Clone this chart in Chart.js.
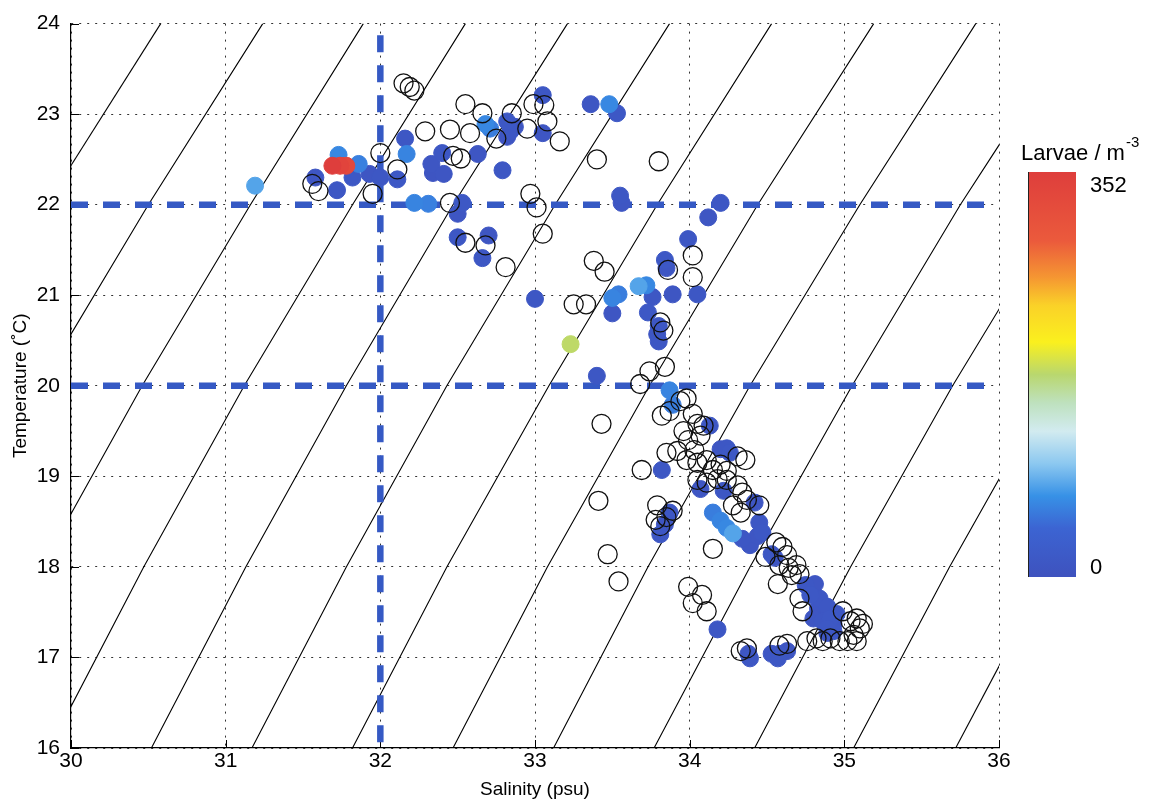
<!DOCTYPE html>
<html>
<head>
<meta charset="utf-8">
<title>T-S diagram</title>
<script src="https://cdn.jsdelivr.net/npm/chart.js@4.4.0/dist/chart.umd.min.js"></script>
<style>
  html, body { margin: 0; padding: 0; background: #fff; }
  #wrap { width: 1159px; height: 806px; position: relative; }
</style>
</head>
<body>
<div id="wrap"><canvas id="ts"></canvas></div>
<script>
const salTicks = [30, 31, 32, 33, 34, 35, 36];
const tempTicks = [16, 17, 18, 19, 20, 21, 22, 23, 24];

// stations where no larvae were caught
const openSal = [
  32.15, 32.19, 32.22, 31.56, 31.60, 32.00, 31.95, 32.29, 32.45, 32.47,
  32.52, 32.55, 32.58, 32.66, 32.75, 32.85, 32.95, 32.99, 33.06, 33.08,
  33.16, 32.45, 32.55, 32.68, 32.81, 32.97, 33.01, 33.05, 33.40, 33.80,
  33.38, 33.45, 33.25, 33.33, 33.81, 33.83, 33.86, 34.02, 34.02, 33.74,
  33.84, 33.68, 33.98, 33.43, 33.69, 33.41, 33.47, 33.54, 33.82, 33.87,
  33.94, 34.02, 34.05, 34.09, 34.07, 33.85, 33.92, 33.99, 34.03, 33.98,
  34.05, 34.11, 34.15, 34.20, 34.24, 34.31, 34.36, 34.05, 34.11, 34.18,
  34.24, 34.31, 34.34, 34.37, 34.45, 33.79, 33.78, 33.81, 33.85, 33.89,
  34.28, 34.33, 34.15, 34.49, 34.56, 34.60, 34.63, 34.58, 34.64, 34.66,
  34.57, 34.69, 34.71, 34.71, 34.73, 34.99, 35.04, 35.08, 35.10, 35.06,
  35.02, 34.97, 34.82, 34.86, 34.91, 35.08, 35.12, 34.08, 34.11, 33.99,
  34.02, 34.37, 34.33, 34.58, 34.63, 34.76, 33.96, 32.11
];
const openTemp = [
  23.34, 23.30, 23.26, 22.23, 22.15, 22.57, 22.12, 22.81, 22.83, 22.54,
  22.51, 23.11, 22.79, 23.01, 22.73, 23.01, 22.84, 23.11, 23.10, 22.92,
  22.70, 22.02, 21.58, 21.55, 21.31, 22.12, 21.97, 21.68, 22.50, 22.48,
  21.38, 21.26, 20.90, 20.90, 20.70, 20.61, 21.28, 21.44, 21.20, 20.16,
  20.21, 20.02, 19.86, 19.58, 19.07, 18.73, 18.14, 17.84, 19.67, 19.72,
  19.83, 19.69, 19.58, 19.56, 19.45, 19.26, 19.28, 19.40, 19.29, 19.18,
  19.15, 19.18, 19.07, 19.13, 19.06, 19.22, 19.18, 18.96, 18.93, 18.97,
  18.96, 18.90, 18.82, 18.74, 18.68, 18.68, 18.52, 18.45, 18.55, 18.62,
  18.68, 18.60, 18.20, 18.11, 18.27, 18.22, 18.13, 18.02, 17.99, 17.91,
  17.81, 18.02, 17.92, 17.65, 17.51, 17.51, 17.40, 17.43, 17.32, 17.25,
  17.18, 17.18, 17.21, 17.18, 17.21, 17.18, 17.37, 17.69, 17.51, 17.78,
  17.60, 17.10, 17.07, 17.13, 17.15, 17.18, 19.50, 22.39
];

// stations with larvae, coloured by density (larvae / m^3)
const larvaeSal = [
  31.19, 31.58, 31.72, 31.73, 31.69, 31.74, 31.78, 31.86, 31.82, 31.93,
  32.00, 32.11, 32.16, 32.17, 32.33, 32.34, 32.41, 32.40, 32.63, 32.68,
  32.71, 32.82, 32.84, 32.87, 32.82, 33.05, 33.05, 32.79, 32.22, 32.31,
  32.53, 32.50, 32.50, 32.70, 32.66, 33.36, 33.48, 33.53, 33.55, 33.56,
  34.20, 34.12, 33.99, 33.84, 33.85, 33.00, 33.50, 33.54, 33.67, 33.72,
  33.76, 33.89, 34.05, 33.50, 33.73, 33.80, 33.79, 33.80, 33.23, 33.40,
  33.87, 33.89, 34.13, 34.20, 34.24, 34.26, 33.82, 34.07, 34.22, 34.42,
  33.87, 33.84, 33.81, 34.15, 34.20, 34.24, 34.28, 34.34, 34.39, 34.45,
  34.47, 34.44, 34.53, 34.55, 34.75, 34.81, 34.78, 34.84, 34.83, 34.89,
  34.80, 34.86, 34.91, 34.93, 34.93, 34.89, 34.95, 34.89, 34.18, 34.38,
  34.39, 34.53, 34.58, 34.63, 34.57
];
const larvaeTemp = [
  22.21, 22.30, 22.16, 22.55, 22.43, 22.43, 22.43, 22.45, 22.30, 22.34,
  22.30, 22.28, 22.73, 22.56, 22.45, 22.35, 22.34, 22.57, 22.56, 22.89,
  22.84, 22.92, 22.81, 22.86, 22.75, 23.21, 22.79, 22.38, 22.02, 22.01,
  22.02, 21.90, 21.64, 21.66, 21.41, 23.11, 23.11, 23.01, 22.10, 22.02,
  22.02, 21.86, 21.62, 21.39, 21.30, 20.96, 20.97, 21.01, 21.10, 21.11,
  20.98, 21.01, 21.01, 20.80, 20.81, 20.66, 20.57, 20.49, 20.46, 20.11,
  19.95, 19.79, 19.56, 19.30, 19.31, 19.26, 19.07, 18.86, 18.84, 18.71,
  18.60, 18.47, 18.36, 18.60, 18.51, 18.43, 18.37, 18.31, 18.24, 18.49,
  18.38, 18.34, 18.14, 18.10, 17.80, 17.81, 17.69, 17.65, 17.54, 17.56,
  17.43, 17.40, 17.43, 17.37, 17.29, 17.27, 17.48, 17.32, 17.31, 17.04,
  16.99, 17.04, 17.04, 17.07, 16.99
];
const larvaeDens = [
  80, 10, 12, 65, 352, 340, 330, 60, 15, 10,
  12, 14, 12, 62, 10, 8, 10, 12, 10, 65,
  58, 15, 12, 10, 8, 12, 10, 12, 62, 60,
  15, 10, 12, 10, 12, 10, 65, 14, 12, 10,
  12, 10, 12, 14, 10, 12, 62, 58, 80, 65,
  12, 10, 12, 10, 14, 12, 10, 12, 178, 12,
  62, 58, 12, 10, 12, 14, 12, 10, 12, 10,
  12, 10, 12, 58, 62, 65, 80, 12, 10, 12,
  14, 10, 12, 10, 12, 10, 14, 12, 10, 12,
  10, 12, 14, 10, 12, 10, 12, 14, 12, 10,
  12, 10, 12, 10, 12
];
const densMax = 352;

// density isolines: salinity at each of the isoTemp levels
const isoTemp = [16, 18, 20, 22, 24];
const isoSal = [
  [27.89, 28.49, 29.14, 29.84, 30.58],
  [28.55, 29.15, 29.80, 30.50, 31.24],
  [29.21, 29.81, 30.46, 31.16, 31.89],
  [29.86, 30.47, 31.12, 31.82, 32.55],
  [30.52, 31.13, 31.78, 32.47, 33.21],
  [31.17, 31.78, 32.43, 33.13, 33.87],
  [31.82, 32.43, 33.09, 33.79, 34.53],
  [32.47, 33.08, 33.74, 34.44, 35.19],
  [33.12, 33.73, 34.39, 35.10, 35.85],
  [33.77, 34.39, 35.05, 35.75, 36.51],
  [34.42, 35.04, 35.70, 36.41, 37.16],
  [35.06, 35.68, 36.34, 37.05, 37.81],
  [35.72, 36.34, 37.00, 37.71, 38.47]
];

// dashed reference lines
const refTemp = [22, 20];
const refSal = 32;
const refSalRange = [23.87, 16];

// colour scale for larvae density
const cmapPos = [0, 0.12, 0.2, 0.28, 0.36, 0.43, 0.5, 0.58, 0.67, 0.74, 0.83, 1];
const cmapRGB = [
  [62, 82, 190], [60, 100, 210], [55, 145, 230], [140, 200, 240],
  [210, 235, 240], [190, 225, 190], [185, 215, 110], [250, 240, 30],
  [250, 210, 40], [245, 150, 50], [235, 90, 60], [222, 62, 60]
];

function cmap(t) {
  t = Math.max(0, Math.min(1, t));
  let i = 1;
  while (i < cmapPos.length - 1 && t > cmapPos[i]) i++;
  const f = (t - cmapPos[i - 1]) / (cmapPos[i] - cmapPos[i - 1]);
  const a = cmapRGB[i - 1], b = cmapRGB[i];
  return 'rgb(' + a.map((v, k) => Math.round(v + (b[k] - v) * f)).join(',') + ')';
}

const FONT = '"Liberation Sans", Arial, Helvetica, sans-serif';
const lineBlue = '#3559c4';

// draw low densities first so the high ones sit on top
const order = larvaeDens.map((d, i) => i).sort((a, b) => larvaeDens[a] - larvaeDens[b]);
const larvaePts = order.map(i => ({ x: larvaeSal[i], y: larvaeTemp[i] }));
const larvaeCol = order.map(i => cmap(larvaeDens[i] / densMax));

const openPts = openSal.map((s, i) => ({ x: s, y: openTemp[i] }));

const isoSets = isoSal.map(row => ({
  data: row.map((s, i) => ({ x: s, y: isoTemp[i] })),
  showLine: true, borderColor: '#000', borderWidth: 1.1, pointRadius: 0, tension: 0
}));

const refSets = refTemp.map(t => ({
  data: [{ x: salTicks[0], y: t }, { x: salTicks[salTicks.length - 1], y: t }],
  showLine: true, borderColor: lineBlue, borderWidth: 6.5, borderDash: [17, 15], pointRadius: 0
}));
refSets.push({
  data: refSalRange.map(t => ({ x: refSal, y: t })),
  showLine: true, borderColor: lineBlue, borderWidth: 6.5, borderDash: [17, 13], pointRadius: 0
});

// short inward tick marks on the left and bottom axes
const innerTicks = {
  id: 'innerTicks',
  beforeDatasetsDraw(chart) {
    const { ctx, chartArea: a, scales: { x, y } } = chart;
    ctx.save();
    ctx.strokeStyle = '#000';
    ctx.lineWidth = 1;
    ctx.beginPath();
    salTicks.forEach(v => {
      const px = Math.round(x.getPixelForValue(v)) + 0.5;
      ctx.moveTo(px, a.bottom); ctx.lineTo(px, a.bottom - 8);
    });
    tempTicks.forEach(v => {
      const py = Math.round(y.getPixelForValue(v)) + 0.5;
      ctx.moveTo(a.left, py); ctx.lineTo(a.left + 8, py);
    });
    ctx.stroke();
    ctx.restore();
  }
};

// colour bar to the right of the plot
const colorbar = {
  id: 'colorbar',
  afterDraw(chart) {
    const { ctx, chartArea: a } = chart;
    const left = a.right + 29, top = 172, w = 48, h = 405;
    ctx.save();
    const g = ctx.createLinearGradient(0, top + h, 0, top);
    cmapPos.forEach((p, i) => g.addColorStop(p, 'rgb(' + cmapRGB[i].join(',') + ')'));
    ctx.fillStyle = g;
    ctx.fillRect(left, top, w, h);
    ctx.strokeStyle = '#222';
    ctx.lineWidth = 1;
    ctx.beginPath();
    ctx.moveTo(left + 0.5, top); ctx.lineTo(left + 0.5, top + h);
    ctx.stroke();

    ctx.fillStyle = '#000';
    ctx.textAlign = 'left';
    ctx.textBaseline = 'middle';
    ctx.font = '22px ' + FONT;
    ctx.fillText(String(densMax), left + 62, top + 14);
    ctx.fillText('0', left + 62, top + h - 9);

    ctx.textBaseline = 'alphabetic';
    const base = 'Larvae / m';
    ctx.fillText(base, left - 7, 160);
    const bw = ctx.measureText(base).width;
    ctx.font = '15px ' + FONT;
    ctx.fillText('-3', left - 7 + bw + 1, 147);
    ctx.restore();
  }
};

new Chart(document.getElementById('ts'), {
  type: 'scatter',
  data: {
    datasets: [
      {
        data: openPts, pointRadius: 9.5, pointBorderWidth: 1.3,
        pointBorderColor: '#111', pointBackgroundColor: 'rgba(0,0,0,0)'
      },
      {
        data: larvaePts, pointRadius: 8.5, pointBorderWidth: 1,
        pointBackgroundColor: larvaeCol, pointBorderColor: larvaeCol
      },
      ...refSets,
      ...isoSets
    ]
  },
  options: {
    responsive: true,
    maintainAspectRatio: false,
    animation: false,
    devicePixelRatio: 1,
    events: [],
    layout: { padding: { left: 0, top: 16, right: 160, bottom: 0 } },
    plugins: { legend: { display: false }, tooltip: { enabled: false } },
    scales: {
      x: {
        type: 'linear', min: 30, max: 36,
        afterBuildTicks: s => { s.ticks = salTicks.map(v => ({ value: v })); },
        afterFit: s => { s.height = 58; },
        ticks: { color: '#000', padding: 1, font: { family: FONT, size: 21 } },
        grid: { color: '#333', lineWidth: 1, drawTicks: false },
        border: { display: true, color: '#000', width: 1.2, dash: [2, 6] },
        title: {
          display: true, text: 'Salinity (psu)', color: '#000',
          font: { family: FONT, size: 19 }, padding: { top: 0, bottom: 5 }
        }
      },
      y: {
        type: 'linear', min: 16, max: 24,
        afterBuildTicks: s => { s.ticks = tempTicks.map(v => ({ value: v })); },
        afterFit: s => { s.width = 71; },
        ticks: { color: '#000', padding: 11, font: { family: FONT, size: 21 } },
        grid: { color: '#333', lineWidth: 1, drawTicks: false },
        border: { display: true, color: '#000', width: 1.2, dash: [2, 6] },
        title: {
          display: true, text: 'Temperature (˚C)', color: '#000',
          font: { family: FONT, size: 19 }, padding: { top: 9, bottom: 0 }
        }
      }
    }
  },
  plugins: [innerTicks, colorbar]
});
</script>
</body>
</html>
